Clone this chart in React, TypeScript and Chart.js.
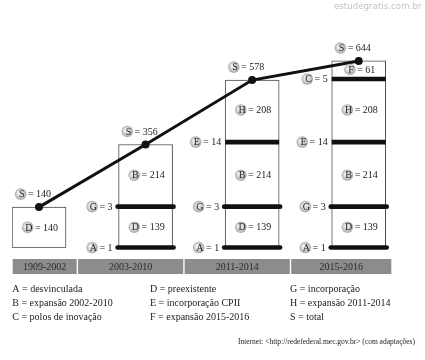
import React, { useEffect, useRef } from 'react';
import { Chart, registerables } from 'chart.js';

Chart.register(...registerables);

// ---- data ----
const categories = ['1909-2002', '2003-2010', '2011-2014', '2015-2016'];
const totalS = [140, 356, 578, 644];
const segA = [null, 1, 1, 1];
const segD = [140, 139, 139, 139];
const segG = [null, 3, 3, 3];
const segB = [null, 214, 214, 214];
const segE = [null, null, 14, 14];
const segH = [null, null, 208, 208];
const segC = [null, null, null, 5];
const segF = [null, null, null, 61];

const legendRow1 = ['A = desvinculada', 'D = preexistente', 'G = incorporação'];
const legendRow2 = ['B = expansão 2002-2010', 'E = incorporação CPII', 'H = expansão 2011-2014'];
const legendRow3 = ['C = polos de inovação', 'F = expansão 2015-2016', 'S = total'];
const sourceText = 'Internet: <http://redefederal.mec.gov.br> (com adaptações)';
const watermarkText = 'estudegratis.com.br';

type Seg = { key: string; values: (number | null)[]; mark: 'rule' | 'area'; wide?: boolean };
const stackOrder: Seg[] = [
  { key: 'A', values: segA, mark: 'rule', wide: true },
  { key: 'D', values: segD, mark: 'area' },
  { key: 'G', values: segG, mark: 'rule', wide: true },
  { key: 'B', values: segB, mark: 'area' },
  { key: 'E', values: segE, mark: 'rule', wide: false },
  { key: 'H', values: segH, mark: 'area' },
  { key: 'C', values: segC, mark: 'rule', wide: false },
  { key: 'F', values: segF, mark: 'area' },
];

const SERIF = '"Liberation Serif", "Times New Roman", serif';
const LABEL_FONT = `10px ${SERIF}`;
const R = 5.8;

function drawTag(ctx: CanvasRenderingContext2D, letter: string, value: number, x: number, y: number, align: 'center' | 'right') {
  ctx.save();
  ctx.font = LABEL_FONT;
  const txt = `= ${value}`;
  const tw = ctx.measureText(txt).width;
  const total = 2 * R + 1.5 + tw;
  const x0 = align === 'center' ? x - total / 2 : x - total;
  const cx = x0 + R;
  const g = ctx.createRadialGradient(cx - 1.5, y - 1.5, 0.5, cx, y, R);
  g.addColorStop(0, '#f6f6f6');
  g.addColorStop(0.55, '#d2d2d2');
  g.addColorStop(1, '#a9a9a9');
  ctx.fillStyle = g;
  ctx.beginPath();
  ctx.arc(cx, y, R, 0, Math.PI * 2);
  ctx.fill();
  ctx.fillStyle = '#222';
  ctx.textBaseline = 'middle';
  ctx.textAlign = 'center';
  ctx.fillText(letter, cx + 1.2, y + 0.5);
  ctx.textAlign = 'left';
  ctx.fillText(txt, x0 + 2 * R + 1.5, y + 0.5);
  ctx.restore();
}

const diagramPlugin = {
  id: 'diagram',
  afterDatasetsDraw(chart: any) {
    const ctx: CanvasRenderingContext2D = chart.ctx;
    const xs = chart.scales.x;
    const ys = chart.scales.y;
    const area = chart.chartArea;
    const boxMeta = chart.getDatasetMeta(1);

    // thick rules + tags
    categories.forEach((_, i) => {
      const el = boxMeta.data[i];
      const left = el.x - el.width / 2;
      const right = el.x + el.width / 2;
      let cum = 0;
      stackOrder.forEach((s) => {
        const v = s.values[i];
        if (v == null) return;
        const yp = ys.getPixelForValue(cum + v / 2);
        if (s.mark === 'rule') {
          ctx.save();
          ctx.strokeStyle = '#111';
          ctx.lineWidth = 4.6;
          ctx.lineCap = s.wide ? 'round' : 'butt';
          ctx.beginPath();
          const ext = s.wide ? 1 : 0;
          ctx.moveTo(left - ext, yp);
          ctx.lineTo(right + ext, yp);
          ctx.stroke();
          ctx.restore();
          drawTag(ctx, s.key, v, left - (s.wide ? 6 : 4), yp, 'right');
        } else {
          drawTag(ctx, s.key, v, el.x + 1, yp, 'center');
        }
        cum += v;
      });
      const topPx = ys.getPixelForValue(totalS[i]);
      drawTag(ctx, 'S', totalS[i], el.x - 6, topPx - 13, 'center');
    });

    // category bands
    ctx.save();
    categories.forEach((c, i) => {
      let a = xs.getPixelForValue(i - 0.64);
      let b = xs.getPixelForValue(i + 0.36);
      a = Math.max(a, area.left);
      b = Math.min(b, area.right);
      const top = area.bottom + 11.3;
      const h = 15;
      ctx.fillStyle = '#8c8c8c';
      ctx.fillRect(a + 0.7, top, b - a - 1.4, h);
      ctx.fillStyle = '#2b2b2b';
      ctx.font = LABEL_FONT;
      ctx.textAlign = 'center';
      ctx.textBaseline = 'middle';
      ctx.fillText(c, (a + b) / 2, top + h / 2 + 0.5);
    });

    // legend
    ctx.fillStyle = '#222';
    ctx.font = LABEL_FONT;
    ctx.textAlign = 'left';
    ctx.textBaseline = 'middle';
    const cols = [12.3, 150, 290];
    [legendRow1, legendRow2, legendRow3].forEach((row, r) => {
      row.forEach((t, c) => {
        ctx.fillText(t, cols[c], area.bottom + 42 + r * 13.7);
      });
    });

    // source
    ctx.font = `7.5px ${SERIF}`;
    ctx.textAlign = 'right';
    ctx.fillText(sourceText, 415, area.bottom + 94);

    // watermark
    ctx.font = '8.7px "DejaVu Sans", sans-serif';
    ctx.fillStyle = '#c4c4c4';
    ctx.textAlign = 'right';
    ctx.fillText(watermarkText, 421.5, 7);
    ctx.restore();
  },
};

export default function App() {
  const ref = useRef<HTMLCanvasElement | null>(null);
  useEffect(() => {
    document.body.style.margin = '0';
    if (!ref.current) return;
    const chart = new Chart(ref.current, {
      type: 'bar',
      data: {
        datasets: [
          {
            type: 'line',
            label: 'S',
            data: totalS.map((v, i) => ({ x: i, y: v })),
            borderColor: '#111',
            borderWidth: 3,
            pointRadius: 4,
            pointBackgroundColor: '#111',
            pointBorderWidth: 0,
            tension: 0,
            order: 0,
          } as any,
          {
            type: 'bar',
            label: 'box',
            data: totalS.map((v, i) => ({ x: i, y: [0, v] })),
            backgroundColor: '#ffffff',
            borderColor: '#4a4a4a',
            borderWidth: 1,
            borderSkipped: false,
            barThickness: 54,
            order: 1,
          } as any,
        ],
      },
      options: {
        animation: false,
        responsive: true,
        maintainAspectRatio: false,
        layout: { padding: { top: 30, bottom: 112.3, left: 12, right: 33 } },
        plugins: { legend: { display: false }, tooltip: { enabled: false } },
        scales: {
          x: { type: 'linear', min: -0.2534, max: 3.3124, offset: false, display: false },
          y: { type: 'linear', min: 0, max: 750.7, display: false },
        },
      },
      plugins: [diagramPlugin],
    });
    return () => chart.destroy();
  }, []);
  return (
    <div style={{ width: 425, height: 360, position: 'relative', background: '#fff' }}>
      <canvas ref={ref} />
    </div>
  );
}
